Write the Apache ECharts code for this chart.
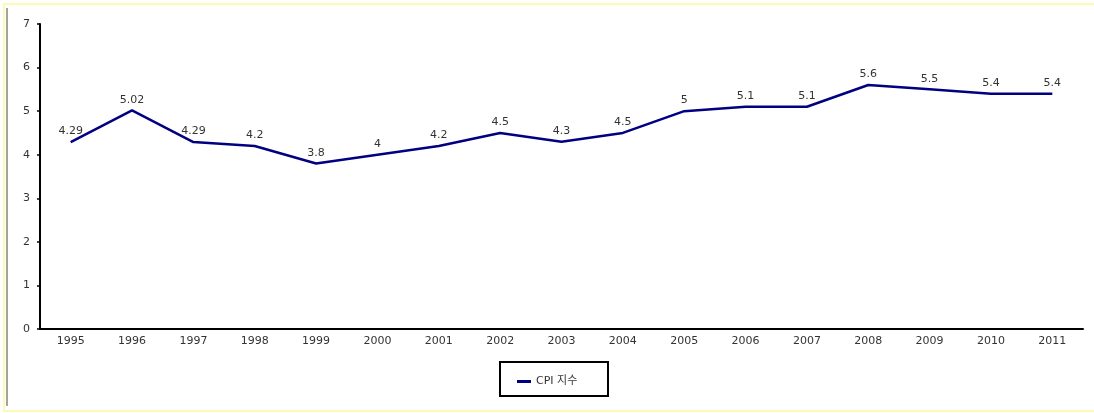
<!DOCTYPE html>
<html><head><meta charset="utf-8">
<script src="https://cdn.jsdelivr.net/npm/echarts@6/dist/echarts.min.js"></script>
<style>html,body{margin:0;padding:0;background:#fff}#c{width:1094px;height:413px}</style>
</head><body><div id="c"></div>
<script>
const years = ['1995','1996','1997','1998','1999','2000','2001','2002','2003','2004','2005','2006','2007','2008','2009','2010','2011'];
const cpi = [4.29,5.02,4.29,4.2,3.8,4,4.2,4.5,4.3,4.5,5,5.1,5.1,5.6,5.5,5.4,5.4];
const seriesName = 'CPI 지수';
const yTicks = [0,1,2,3,4,5,6,7];
const font = '"DejaVu Sans", "Noto Sans CJK KR", sans-serif';

const chart = echarts.init(document.getElementById('c'));
chart.setOption({
  animation:false,
  textStyle:{fontFamily:font},
  graphic:[
    {type:'rect',shape:{x:4,y:4,width:1094,height:407},style:{fill:'none',stroke:'#fdf9b8',lineWidth:2},silent:true},
    {type:'line',shape:{x1:7,y1:8,x2:7,y2:406},style:{stroke:'#4a4a30',lineWidth:1},silent:true},
    {type:'rect',shape:{x:500,y:362,width:108,height:34},style:{fill:'#fff',stroke:'#000',lineWidth:2},silent:true,z:0}
  ],
  grid:{left:40,right:11,top:24,bottom:84},
  legend:{data:[seriesName],left:512,top:371,itemWidth:14,itemHeight:3,icon:'rect',itemGap:6,
    textStyle:{fontSize:11,color:'#333',fontFamily:font},z:5},
  xAxis:{type:'category',data:years,boundaryGap:true,
    axisLine:{lineStyle:{color:'#000',width:2}},axisTick:{show:false},
    axisLabel:{fontSize:11,color:'#333',margin:7,fontFamily:font}},
  yAxis:{type:'value',min:0,max:7,interval:1,
    axisLine:{show:true,lineStyle:{color:'#000',width:2}},
    axisTick:{show:true,length:3,inside:false,lineStyle:{color:'#000',width:1.5}},
    splitLine:{show:false},
    axisLabel:{fontSize:11,color:'#333',margin:10,fontFamily:font,
      formatter:v=>yTicks.includes(v)?String(v):''}},
  series:[{name:seriesName,type:'line',data:cpi,symbol:'circle',symbolSize:0.1,showSymbol:true,
    lineStyle:{color:'#000080',width:2.5},itemStyle:{color:'#000080'},
    label:{show:true,position:'top',distance:5,fontSize:11,color:'#333',fontFamily:font}}]
});
</script></body></html>
